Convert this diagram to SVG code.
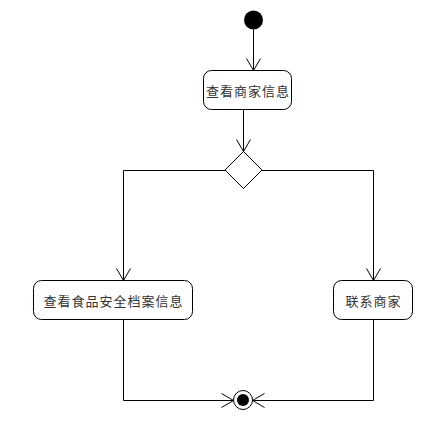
<svg xmlns="http://www.w3.org/2000/svg" width="433" height="423" viewBox="0 0 433 423">
<defs>
<style>
.box{fill:#fff;stroke:#000;stroke-width:1}
.lbl{font-family:"Noto Sans CJK SC","Liberation Sans",sans-serif;font-size:13px;letter-spacing:1px;fill:#333;text-anchor:middle;dominant-baseline:central}
.ln{fill:none;stroke:#000;stroke-width:1}
</style>
<marker id="arr" viewBox="0 0 14 16" refX="13" refY="8" markerWidth="14" markerHeight="16" markerUnits="userSpaceOnUse" orient="auto">
<path d="M1,1 L13,8 L1,15" fill="none" stroke="#000" stroke-width="1"/>
</marker>
</defs>
<rect width="433" height="423" fill="#fff"/>
<g id="start"><circle cx="253.5" cy="20" r="9.5" fill="#000"/></g>
<g id="n1"><rect class="box" x="203.5" y="70.5" width="88" height="39" rx="8"/><text class="lbl" x="248" y="90">查看商家信息</text></g>
<g id="decision"><polygon class="box" points="243.5,151.5 262,170 243.5,188.5 225,170"/></g>
<g id="n2"><rect class="box" x="33.5" y="280.5" width="159" height="39" rx="8"/><text class="lbl" x="113.5" y="300">查看食品安全档案信息</text></g>
<g id="n3"><rect class="box" x="333.5" y="280.5" width="79" height="39" rx="8"/><text class="lbl" x="373.5" y="300">联系商家</text></g>
<g id="end"><circle cx="243" cy="400" r="9.5" fill="#fff" stroke="#000" stroke-width="1"/><circle cx="243" cy="400" r="6" fill="#000"/></g>
<g id="connectors">
<path class="ln" d="M253.5,29.5 L253.5,70.5" marker-end="url(#arr)"/>
<path class="ln" d="M243.5,109.5 L243.5,151.5" marker-end="url(#arr)"/>
<path class="ln" d="M225,170.5 L123.5,170.5 L123.5,280.5" marker-end="url(#arr)"/>
<path class="ln" d="M262,170.5 L373.5,170.5 L373.5,280.5" marker-end="url(#arr)"/>
<path class="ln" d="M123.5,319.5 L123.5,400.5 L233.5,400.5" marker-end="url(#arr)"/>
<path class="ln" d="M373.5,319.5 L373.5,400.5 L252.5,400.5" marker-end="url(#arr)"/>
</g>
</svg>
